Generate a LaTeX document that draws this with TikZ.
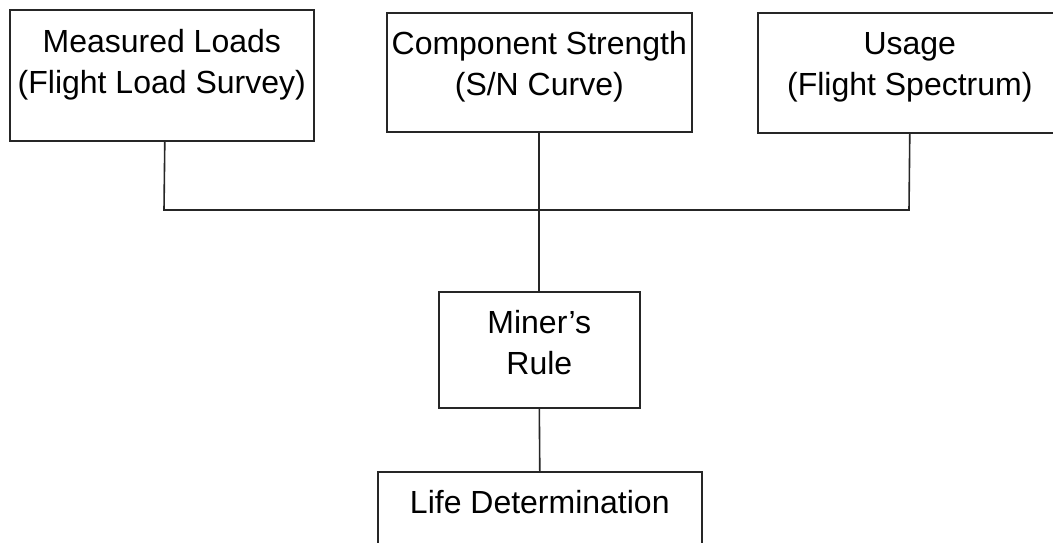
\documentclass[tikz,border=0pt]{standalone}
\usepackage{fontspec}
\setmainfont{Liberation Sans}
\begin{document}
\begin{tikzpicture}[x=1pt,y=-1pt,
  box/.style={draw=black!85, line width=1.6pt, rectangle, inner sep=0pt, anchor=north west},
  txt/.style={inner sep=0pt, anchor=north, align=center, font=\fontsize{32}{41}\selectfont},
  conn/.style={draw=black!85, line width=1.6pt}]
\useasboundingbox (0,0) rectangle (1053,542);
\clip (0,0) rectangle (1053,542);
\fill[white] (0,0) rectangle (1053,542);
% boxes
\node[box, minimum width=304pt, minimum height=131pt] (ml) at (9,9) {};
\node[box, minimum width=305pt, minimum height=119pt] (cs) at (386,12) {};
\node[box, minimum width=304pt, minimum height=120pt] (us) at (757,12) {};
\node[box, minimum width=201pt, minimum height=116pt] (mr) at (438,291) {};
\node[box, minimum width=324pt, minimum height=120pt] (ld) at (377,471) {};
% texts
\node[txt] (mlt) at ([yshift=-14.3pt]ml.north) {\strut Measured Loads\\(Flight Load Survey)};
\node[txt] (cst) at ([yshift=-13.3pt]cs.north) {\strut Component Strength\\(S/N Curve)};
\node[txt] (ust) at ([yshift=-13.3pt]us.north) {\strut Usage\\(Flight Spectrum)};
\node[txt] (mrt) at ([yshift=-13.3pt]mr.north) {\strut Miner’s\\Rule};
\node[txt] (ldt) at ([yshift=-13.3pt]ld.north) {\strut Life Determination};
% connectors
\coordinate (busL) at (164,210);
\coordinate (busR) at (909,210);
\draw[conn] ([xshift=3pt]ml.south) -- (busL) -- (busR) -- (us.south);
\draw[conn] ([xshift=-0.5pt]cs.south) -- ([xshift=-0.5pt]mr.north);
\draw[conn] (mr.south) -- (ld.north);
\end{tikzpicture}
\end{document}
